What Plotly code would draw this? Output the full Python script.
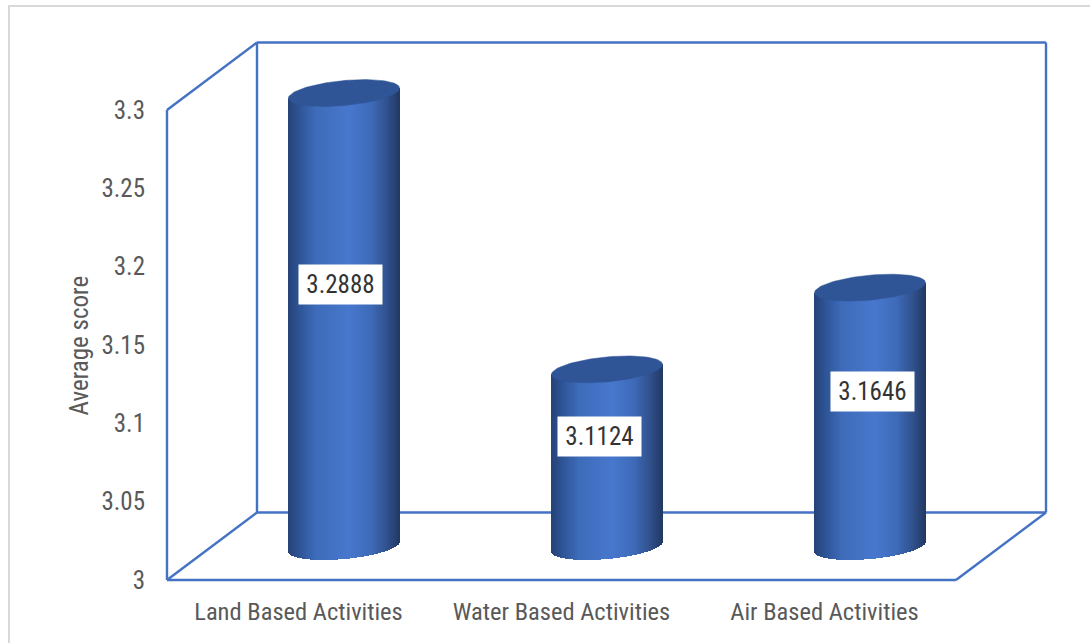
import numpy as np
import plotly.graph_objects as go

categories = ["Land Based Activities", "Water Based Activities", "Air Based Activities"]
scores = [3.2888, 3.1124, 3.1646]
y_ticks = [3, 3.05, 3.1, 3.15, 3.2, 3.25, 3.3]
y_tick_text = ["3", "3.05", "3.1", "3.15", "3.2", "3.25", "3.3"]
label_dx_px = [-3.5, -7.5, 2.5]

PAD = 4
Y3_PX = 580
L, R, T, B = 167 - PAD, 1046 + PAD, 42 - PAD, Y3_PX + PAD
PX_PER_Y = 470 / 0.3
PX_PER_X = 263.0
DX = 90 / PX_PER_X
DY = 67.5 / PX_PER_Y
HALF_W = 55.5 / PX_PER_X
ELL_H = 12.5 / PX_PER_Y
TILT = 5 / PX_PER_Y
MID_X = 45.5 / PX_PER_X
MID_Y = 33.5 / PX_PER_Y
TOP_EXTRA = 1 / PX_PER_Y

x_lo = -0.5 - PAD / PX_PER_X
x_hi = 2.5 + DX + PAD / PX_PER_X
y_lo = 3 - PAD / PX_PER_Y
y_hi = 3 + (B - T - PAD) / PX_PER_Y

BLUE = "#4472C4"
FONT = "Roboto, Liberation Sans, sans-serif"
GREY = "#595959"


def shade(t):
    stops_t = [-1, -0.8, -0.5, 0.1, 0.5, 0.8, 1]
    r = [38, 46, 62, 72, 62, 48, 34]
    g = [66, 84, 108, 120, 106, 80, 58]
    b = [118, 150, 186, 206, 184, 138, 100]
    return "rgb(%d,%d,%d)" % (np.interp(t, stops_t, r), np.interp(t, stops_t, g), np.interp(t, stops_t, b))


def font(size, color=GREY):
    return dict(family=FONT, size=size, color=color)


fig = go.Figure()
N = 111
for i, v in enumerate(scores):
    ts = (np.arange(N) + 0.5) / N * 2 - 1
    cx = i + MID_X
    xs = cx + ts * HALF_W
    lows = 3 + MID_Y - np.sqrt(1 - ts ** 2) * ELL_H + TILT * ts
    highs = v + MID_Y + TOP_EXTRA + TILT * ts
    fig.add_trace(go.Bar(
        x=xs, y=highs - lows, base=lows,
        width=[2 * HALF_W / N * 1.15] * N,
        marker=dict(color=[shade(t) for t in ts], line=dict(width=0)),
        hoverinfo="skip", showlegend=False))
    th = np.linspace(0, 2 * np.pi, 120)
    fig.add_trace(go.Scatter(
        x=cx + HALF_W * np.cos(th),
        y=v + MID_Y + TOP_EXTRA + ELL_H * np.sin(th) + TILT * np.cos(th),
        mode="lines", fill="toself", fillcolor="#2F5597",
        line=dict(color="#2F5597", width=0.5),
        hoverinfo="skip", showlegend=False))

fl, fr = -0.5, 2.5
frame_edges = [
    ((fl, 3), (fl, 3.3)), ((fl, 3.3), (fl + DX, 3.3 + DY)),
    ((fl + DX, 3.3 + DY), (fr + DX, 3.3 + DY)), ((fr + DX, 3.3 + DY), (fr + DX, 3 + DY)),
    ((fr + DX, 3 + DY), (fr, 3)), ((fr, 3), (fl, 3)),
    ((fl + DX, 3.3 + DY), (fl + DX, 3 + DY)), ((fl, 3), (fl + DX, 3 + DY)),
    ((fl + DX, 3 + DY), (fr + DX, 3 + DY)),
]
for (x0, y0), (x1, y1) in frame_edges:
    fig.add_shape(type="line", xref="x", yref="y", x0=x0, y0=y0, x1=x1, y1=y1,
                  line=dict(color=BLUE, width=2.4), layer="below")

for i, v in enumerate(scores):
    fig.add_annotation(x=i + MID_X + label_dx_px[i] / PX_PER_X,
                       y=3 + 47 / PX_PER_Y + 0.55 * (v - 3),
                       text="%.4f" % v, showarrow=False, width=83, height=39,
                       font=font(25, "#333333"), bgcolor="white", borderpad=0)

W, H = R - L, B - T
fig.add_annotation(xref="paper", yref="paper", x=(79 - L) / W, y=(B - 345.5) / H,
                   text="Average score", textangle=-90, showarrow=False,
                   xanchor="center", yanchor="middle", font=font(25))
fig.add_shape(type="rect", xref="paper", yref="paper",
              x0=(9 - L) / W, x1=(1096 - L) / W, y0=(B - 650) / H, y1=(B - 6) / H,
              line=dict(color="#D9D9D9", width=2), layer="below")

fig.update_layout(
    width=1090, height=643, autosize=False,
    margin=dict(l=L, r=1090 - R, t=T, b=643 - B, pad=0),
    paper_bgcolor="white", plot_bgcolor="white",
    barmode="overlay", bargap=0, showlegend=False,
    font=dict(family=FONT, color=GREY),
    xaxis=dict(range=[x_lo, x_hi], tickvals=[0, 1, 2], ticktext=categories,
               showgrid=False, zeroline=False, showline=False,
               ticks="outside", ticklen=6, tickcolor="rgba(0,0,0,0)", tickfont=font(24.5)),
    yaxis=dict(range=[y_lo, y_hi], tickvals=y_ticks, ticktext=y_tick_text,
               showgrid=False, zeroline=False, showline=False,
               ticks="outside", ticklen=12, tickcolor="rgba(0,0,0,0)", tickfont=font(25)),
)
post = """
document.body.style.margin='0';
var s=document.createElement('style');
s.textContent='svg text{font-stretch:75%;}';
document.head.appendChild(s);
"""
fig.write_html("out.html", post_script=post, config={"displayModeBar": False})
